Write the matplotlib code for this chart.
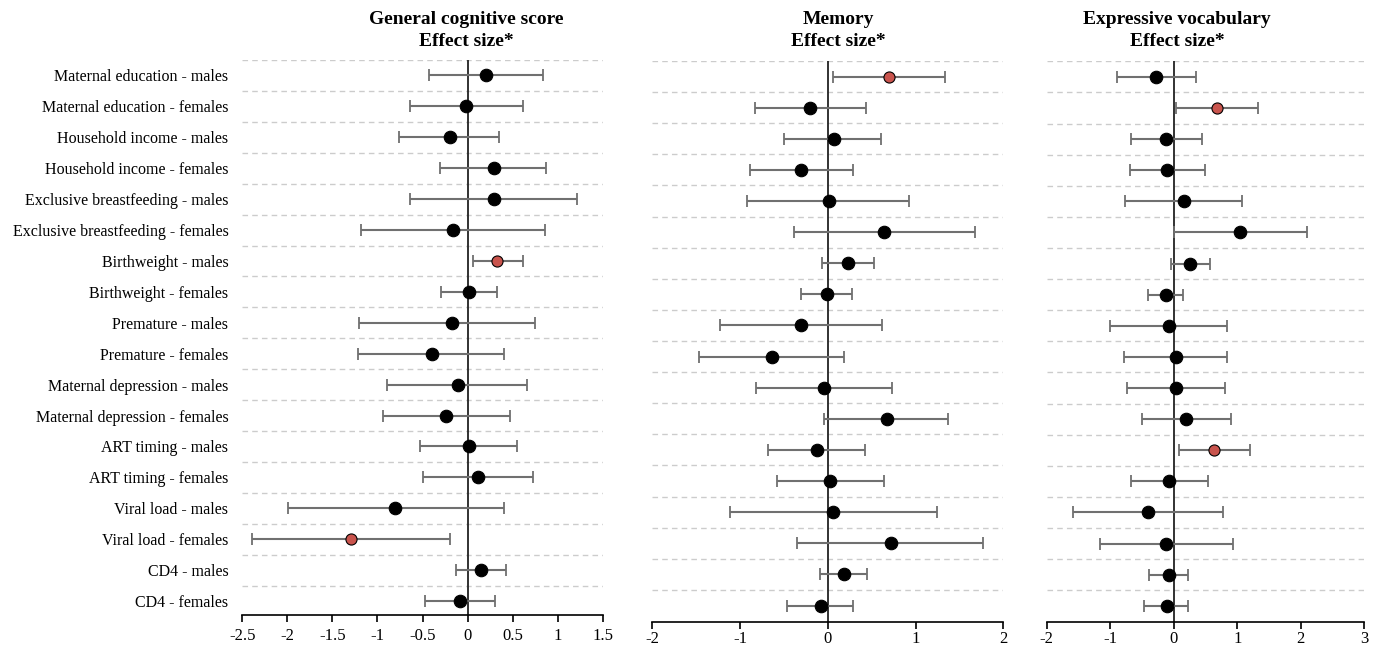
import numpy as np
import matplotlib.pyplot as plt

plt.rcParams['font.family'] = ['Liberation Serif', 'DejaVu Serif']

# row labels, top to bottom
labels = [
    'Maternal education - males', 'Maternal education - females',
    'Household income - males', 'Household income - females',
    'Exclusive breastfeeding - males', 'Exclusive breastfeeding - females',
    'Birthweight - males', 'Birthweight - females',
    'Premature - males', 'Premature - females',
    'Maternal depression - males', 'Maternal depression - females',
    'ART timing - males', 'ART timing - females',
    'Viral load - males', 'Viral load - females',
    'CD4 - males', 'CD4 - females',
]

# general cognitive score
gcs_est = [0.20, -0.015, -0.20, 0.29, 0.29, -0.16, 0.33, 0.015, -0.17,
           -0.40, -0.11, -0.24, 0.015, 0.115, -0.80, -1.29, 0.15, -0.085]
gcs_lo = [-0.425, -0.64, -0.76, -0.31, -0.64, -1.18, 0.056, -0.29, -1.20,
          -1.22, -0.89, -0.94, -0.53, -0.50, -1.99, -2.39, -0.13, -0.47]
gcs_hi = [0.84, 0.62, 0.35, 0.875, 1.22, 0.86, 0.62, 0.33, 0.745,
          0.40, 0.66, 0.47, 0.55, 0.73, 0.40, -0.19, 0.43, 0.30]
gcs_sig = [6, 15]

# memory
mem_est = [0.70, -0.20, 0.067, -0.30, 0.01, 0.64, 0.23, -0.01, -0.30,
           -0.636, -0.043, 0.67, -0.127, 0.03, 0.063, 0.72, 0.18, -0.077]
mem_lo = [0.06, -0.83, -0.50, -0.89, -0.92, -0.39, -0.066, -0.305, -1.225,
          -1.47, -0.815, -0.04, -0.68, -0.58, -1.12, -0.355, -0.09, -0.46]
mem_hi = [1.34, 0.44, 0.61, 0.29, 0.93, 1.68, 0.53, 0.276, 0.62,
          0.18, 0.73, 1.37, 0.42, 0.64, 1.25, 1.77, 0.45, 0.29]
mem_sig = [0]

# expressive vocabulary
voc_est = [-0.28, 0.68, -0.12, -0.10, 0.16, 1.05, 0.26, -0.12, -0.074,
           0.03, 0.036, 0.20, 0.64, -0.07, -0.40, -0.115, -0.08, -0.10]
voc_lo = [-0.90, 0.04, -0.67, -0.69, -0.77, 0.0, -0.05, -0.40, -1.0,
          -0.78, -0.735, -0.50, 0.08, -0.68, -1.59, -1.16, -0.39, -0.47]
voc_hi = [0.35, 1.33, 0.44, 0.49, 1.08, 2.10, 0.57, 0.15, 0.845,
          0.845, 0.81, 0.90, 1.20, 0.545, 0.78, 0.93, 0.23, 0.23]
voc_sig = [1, 12]

panels = [
    ('General cognitive score', gcs_est, gcs_lo, gcs_hi, gcs_sig,
     (-2.5, 1.5), np.arange(-2.5, 1.51, 0.5)),
    ('Memory', mem_est, mem_lo, mem_hi, mem_sig, (-2, 2), np.arange(-2, 2.1, 1)),
    ('Expressive vocabulary', voc_est, voc_lo, voc_hi, voc_sig, (-2, 3), np.arange(-2, 3.1, 1)),
]

W, H = 1378, 647
fig = plt.figure(figsize=(W / 100, H / 100), dpi=100)

# axes boxes in pixels: left, right, top, bottom
boxes = [(242.3, 602.7, 60.0, 615.3), (652.3, 1003.3, 61.0, 622.0), (1046.7, 1364.3, 61.3, 622.3)]
ybottoms = [17.46, 17.53, 17.53]
title_x = [466, 838, 1177]
tick_pads = [4, 1.5, 1.5]

y = np.arange(len(labels))

for i, (name, est, lo, hi, sig, xlim, ticks) in enumerate(panels):
    l, r, t, b = boxes[i]
    ax = fig.add_axes([l / W, 1 - b / H, (r - l) / W, (b - t) / H])
    est = np.array(est)
    lo = np.array(lo)
    hi = np.array(hi)

    # dashed separators
    for g in np.arange(-0.5, len(labels) - 0.5, 1):
        ax.axhline(g, color='#cccccc', lw=1, ls=(0, (4, 3)), zorder=0)
    ax.axvline(0, color='#222222', lw=1.3, zorder=1)

    ax.errorbar(est, y, xerr=[est - lo, hi - est], fmt='none', ecolor='#707070',
                elinewidth=1.5, capsize=4, capthick=1.3, zorder=2)
    colors = ['#c9544d' if k in sig else 'black' for k in range(len(labels))]
    sizes = [8 if k in sig else 9 for k in range(len(labels))]
    for k in range(len(labels)):
        ax.plot(est[k], y[k], 'o', color=colors[k], ms=sizes[k],
                mec='black', mew=0.8, zorder=3)

    ax.set_xlim(*xlim)
    ax.set_ylim(ybottoms[i], -0.5)
    ax.set_xticks(ticks)
    ax.set_xticklabels([f'{v:g}' for v in ticks], fontsize=12)
    ax.tick_params(axis='x', direction='out', length=5, width=1.2, pad=tick_pads[i])
    for s in ['top', 'right', 'left']:
        ax.spines[s].set_visible(False)
    ax.spines['bottom'].set_linewidth(1.2)

    if i == 0:
        ax.set_yticks(y)
        ax.set_yticklabels(labels, fontsize=11.5)
        ax.tick_params(axis='y', length=0, pad=10)
    else:
        ax.set_yticks([])

    fig.text(title_x[i] / W, 1 - 19 / H, name, ha='center', va='center',
             fontsize=14, fontweight='bold')
    fig.text(title_x[i] / W, 1 - 41.5 / H, 'Effect size*', ha='center', va='center',
             fontsize=14, fontweight='bold')

fig.savefig('out.png', dpi=100)
